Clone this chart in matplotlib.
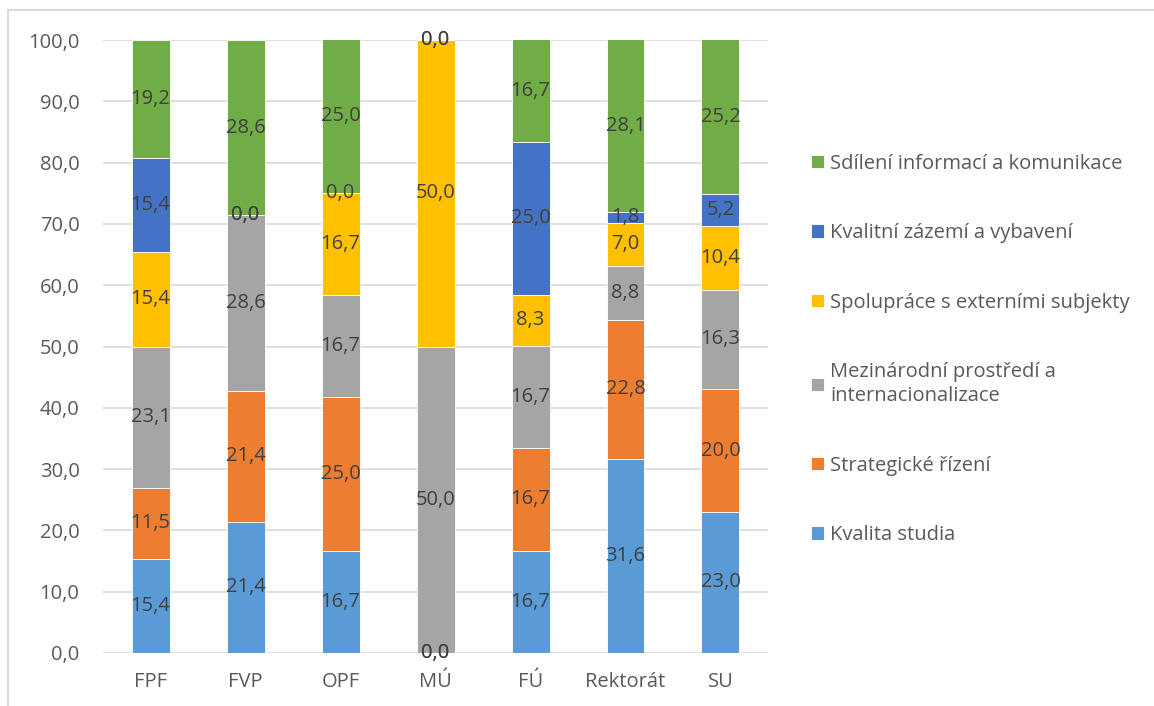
import matplotlib.pyplot as plt
from matplotlib.lines import Line2D
import numpy as np

plt.rcParams['font.family'] = ['Open Sans', 'DejaVu Sans']

pracoviste = ['FPF', 'FVP', 'OPF', 'MÚ', 'FÚ', 'Rektorát', 'SU']

kvalita_studia = [15.4, 21.4, 16.7, 0.0, 16.7, 31.6, 23.0]
strategicke_rizeni = [11.5, 21.4, 25.0, 0.0, 16.7, 22.8, 20.0]
mezinarodni = [23.1, 28.6, 16.7, 50.0, 16.7, 8.8, 16.3]
spoluprace = [15.4, 0.0, 16.7, 50.0, 8.3, 7.0, 10.4]
zazemi = [15.4, 0.0, 0.0, 0.0, 25.0, 1.8, 5.2]
sdileni = [19.2, 28.6, 25.0, 0.0, 16.7, 28.1, 25.2]

serie = [
    ('Kvalita studia', kvalita_studia, '#5B9BD5'),
    ('Strategické řízení', strategicke_rizeni, '#ED7D31'),
    ('Mezinárodní prostředí a\ninternacionalizace', mezinarodni, '#A5A5A5'),
    ('Spolupráce s externími subjekty', spoluprace, '#FFC000'),
    ('Kvalitní zázemí a vybavení', zazemi, '#4472C4'),
    ('Sdílení informací a komunikace', sdileni, '#70AD47'),
]

fig = plt.figure(figsize=(11.54, 7.06), dpi=100)
ax = fig.add_axes([0.0893, 0.0751, 0.5762, 0.8682])

x = np.arange(len(pracoviste))
spodek = np.zeros(len(pracoviste))
for nazev, hodnoty, barva in serie:
    h = np.array(hodnoty)
    ax.bar(x, h, 0.4, bottom=spodek, color=barva, label=nazev,
           edgecolor='white', linewidth=0.6, zorder=2)
    for xi, b, v in zip(x, spodek, h):
        ax.text(xi, b + v / 2, f'{v:.1f}'.replace('.', ','), ha='center',
                va='center', fontsize=14.5, color='#404040', zorder=3)
    spodek += h

ax.set_xlim(-0.5, len(pracoviste) - 0.5)
ax.set_ylim(0, 100)
ax.set_yticks(np.arange(0, 101, 10))
ax.set_yticklabels([f'{v:.1f}'.replace('.', ',') for v in range(0, 101, 10)])
ax.set_xticks(x)
ax.set_xticklabels(pracoviste)
ax.tick_params(length=0, labelsize=14.5, labelcolor='#595959')
ax.tick_params(axis='y', pad=17)
ax.tick_params(axis='x', pad=14)
ax.grid(axis='y', color='#D9D9D9', linewidth=1.2, zorder=0)
ax.set_axisbelow(True)
for s in ax.spines.values():
    s.set_visible(False)

handles, labels = ax.get_legend_handles_labels()
leg = fig.legend(handles[::-1], labels[::-1], loc='upper left',
                 bbox_to_anchor=(0.696, 0.7935), frameon=False,
                 fontsize=14.5, labelspacing=2.45, handlelength=0.65,
                 handleheight=0.65, handletextpad=0.3, borderaxespad=0)
for t in leg.get_texts():
    t.set_color('#595959')
    t.set_linespacing(1.3)

# ramecek grafu
fig.add_artist(Line2D([0.007, 1.0], [0.986, 0.986], color='#D9D9D9', linewidth=1.5))
fig.add_artist(Line2D([0.007, 0.007], [0.0, 0.986], color='#D9D9D9', linewidth=1.5))

fig.savefig('out.png', dpi=100)
